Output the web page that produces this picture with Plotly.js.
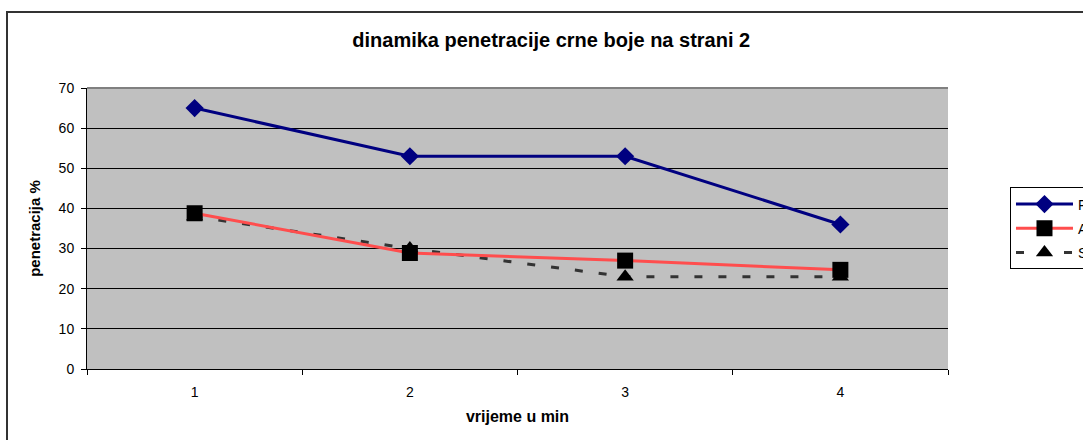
<!DOCTYPE html>
<html><head><meta charset="utf-8">
<script src="https://cdn.plot.ly/plotly-3.0.1.min.js"></script>
<style>
html,body{margin:0;padding:0;background:#fff;overflow:hidden;}
#chart{position:absolute;left:0;top:0;width:1083px;height:440px;}
#frame{position:absolute;left:6px;top:11px;width:1100px;height:460px;border:2px solid #333;pointer-events:none;}
</style></head>
<body>
<div id="chart"></div>
<div id="frame"></div>
<script>
const categories = ['1', '2', '3', '4'];
const seriesNames = ['F', 'A', 'S'];
const valuesF = [65, 53, 53, 36];
const valuesA = [38.8, 28.9, 27, 24.7];
const valuesS = [38, 30, 23, 23];
const yTicks = [0, 10, 20, 30, 40, 50, 60, 70];

const font = 'Arial, "Liberation Sans", sans-serif';
const traceF = {x: categories, y: valuesF, name: seriesNames[0], legendrank: 1, legendgroup: 'f', type: 'scatter', mode: 'lines+markers',
   line: {color: '#000080', width: 3}, marker: {symbol: 'diamond', size: 14, color: '#000080'}};
const traceA = {x: categories, y: valuesA, name: seriesNames[1], legendrank: 2, legendgroup: 'a', type: 'scatter', mode: 'lines+markers',
   line: {color: '#FF4D4D', width: 3}, marker: {symbol: 'square', size: 16, color: '#000000'}};
const traceS = {x: categories, y: valuesS, name: seriesNames[2], legendrank: 3, legendgroup: 's', type: 'scatter', mode: 'lines+markers',
   line: {color: '#333333', width: 3, dash: '8px,16px'}, marker: {symbol: 'triangle-up', size: 15, color: '#000000'}};
const layout = {
  width: 1083, height: 440,
  margin: {l: 87, r: 135, t: 88, b: 71, autoexpand: false},
  paper_bgcolor: '#ffffff', plot_bgcolor: '#C0C0C0',
  font: {family: font, size: 14, color: '#000'},
  title: {text: '<b>dinamika penetracije crne boje na strani 2</b>', font: {family: font, size: 20, color: '#000'},
          xref: 'container', x: 0.509, xanchor: 'center', yref: 'container', y: 1 - 40/440, yanchor: 'middle'},
  xaxis: {type: 'category', tickson: 'boundaries', ticks: 'outside', ticklen: 5, tickcolor: '#000',
          showline: true, linecolor: '#000', linewidth: 1, showgrid: false, zeroline: false,
          range: [-0.5, 3.5], tickfont: {family: font, size: 14}, ticklabelstandoff: 10,
          title: {text: '<b>vrijeme u min</b>', font: {family: font, size: 16}, standoff: 12}},
  yaxis: {range: [0, 70], tickvals: yTicks, ticks: 'outside', ticklen: 5, tickcolor: '#000',
          showline: true, linecolor: '#000', linewidth: 1, showgrid: true, gridcolor: '#000', gridwidth: 1,
          zeroline: false, tickfont: {family: font, size: 14}, ticklabelstandoff: 4,
          title: {text: '<b>penetracija %</b>', font: {family: font, size: 15}, standoff: 14}},
  showlegend: true,
  legend: {x: 1.072, xanchor: 'left', y: 0.646, yanchor: 'top', bgcolor: '#fff',
           bordercolor: '#000', borderwidth: 1, font: {family: font, size: 14}, traceorder: 'grouped',
           tracegroupgap: 3, itemwidth: 57},
  shapes: [{type: 'line', xref: 'paper', yref: 'paper', x0: 0, x1: 1, y0: 1, y1: 1,
            line: {color: '#808080', width: 2}}]
};
Plotly.newPlot('chart', [traceF, traceS, traceA], layout, {displayModeBar: false, staticPlot: true});
</script>
</body></html>
